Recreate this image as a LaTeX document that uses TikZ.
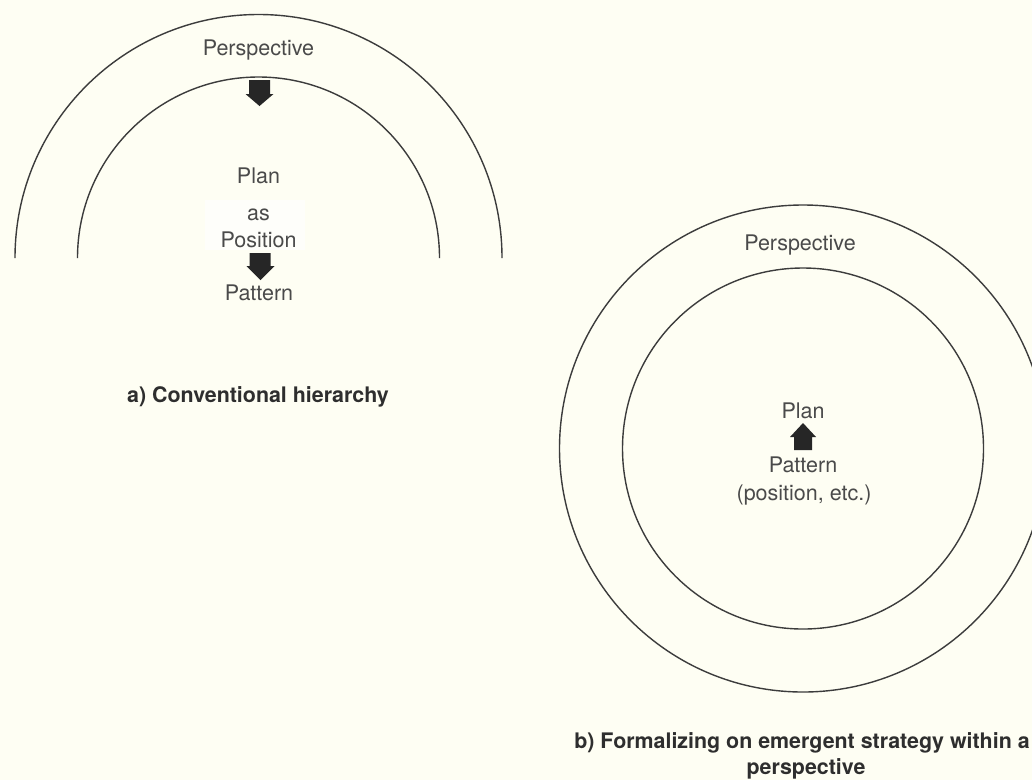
\documentclass[tikz,border=0pt]{standalone}
\usepackage{fontspec}
\setmainfont{TeX Gyre Heros}
\definecolor{bgc}{HTML}{FEFEF3}
\definecolor{linec}{HTML}{3C3C3C}
\definecolor{txtc}{HTML}{4A4A4A}
\definecolor{capc}{HTML}{2E2E2E}
\begin{document}
\begin{tikzpicture}[x=1pt,y=1pt,
  ring/.style={draw=linec,line width=1.4pt},
  lbl/.style={text=txtc,font=\fontsize{21.5}{27}\selectfont,inner sep=0pt,anchor=base},
  captxt/.style={text=capc,font=\bfseries\fontsize{21.4}{27}\selectfont,inner sep=0pt,anchor=base},
  blockarrow/.style={fill=black!85,draw=none}]
\useasboundingbox[fill=bgc] (0,0) rectangle (1032,-780);
% faint patch behind "as Position"
\fill[white,opacity=0.6] (205,-200) rectangle (305,-250);
% ---- a) left figure
\draw[ring] (15,-258) arc[start angle=180,end angle=0,radius=243.5];
\draw[ring] (77.5,-258) arc[start angle=180,end angle=0,radius=181];
\node[lbl] (persA) at (258.5,-55) {Perspective};
\node[lbl] (planA) at (258.5,-183) {Plan};
\node[lbl] (asA) at (258.5,-220) {as};
\node[lbl] (posA) at (258.5,-247) {Position};
\node[lbl] (patA) at (259,-300.5) {Pattern};
\fill[blockarrow] (249,-80) -- (270,-80) -- (270,-94) -- (273.5,-94) -- (259.5,-106)
  -- (245.5,-94) -- (249,-94) -- cycle;
\fill[blockarrow] (249.5,-253) -- (270.5,-253) -- (270.5,-266) -- (274.5,-266) -- (260.5,-280)
  -- (246.5,-266) -- (249.5,-266) -- cycle;
\node[captxt] (capA) at (258,-402) {a) Conventional hierarchy};
% ---- b) right figure
\draw[ring] (803,-448.5) circle[radius=243.5];
\draw[ring] (803,-448.5) circle[radius=180.5];
\node[lbl] (persB) at (800,-250) {Perspective};
\node[lbl] (planB) at (803,-418) {Plan};
\fill[blockarrow] (794,-450) -- (812,-450) -- (812,-437) -- (816,-437) -- (803,-423)
  -- (790,-437) -- (794,-437) -- cycle;
\node[lbl] (patB) at (803,-472) {Pattern};
\node[lbl] (posB) at (804,-500) {(position, etc.)};
\node[captxt] (capB1) at (802,-748.5) {b) Formalizing on emergent strategy within a};
\node[captxt] (capB2) at (806,-774) {perspective};
\end{tikzpicture}
\end{document}
